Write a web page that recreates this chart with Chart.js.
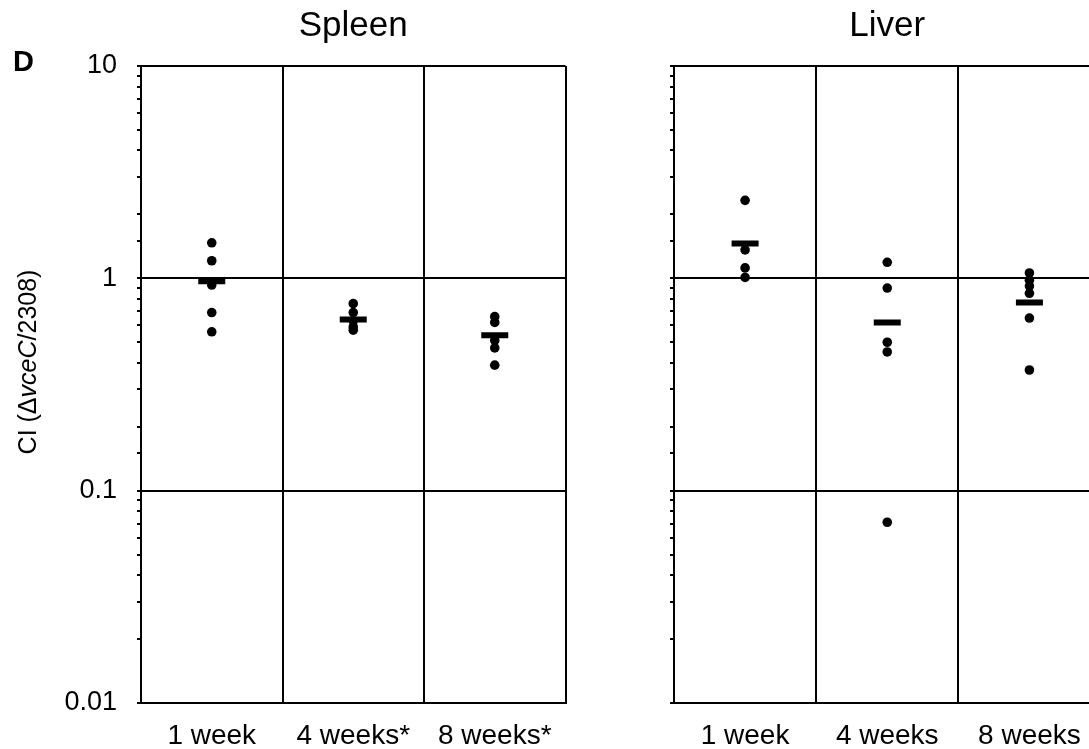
<!DOCTYPE html>
<html>
<head>
<meta charset="utf-8">
<script src="https://cdn.jsdelivr.net/npm/chart.js@4"></script>
<style>
    html, body { margin: 0; padding: 0; background: #fff; overflow: hidden; }
    body { width: 1089px; height: 749px; position: relative; font-family: 'Liberation Sans', Arial, sans-serif; }
    #spleenWrap { position: absolute; left: 0; top: 0; width: 585px; height: 749px; }
    #liverWrap { position: absolute; left: 590px; top: 0; width: 530px; height: 749px; }
    .panel-letter { position: absolute; left: 13px; top: 47px; font-size: 29px; font-weight: bold; line-height: 1; }
    .y-title {
        position: absolute; left: 27px; top: 362px; font-size: 25px; line-height: 1; white-space: nowrap;
        transform: translate(-50%, -50%) rotate(-90deg);
    }
</style>
</head>
<body>
<div id="spleenWrap"><canvas id="spleenChart"></canvas></div>
<div id="liverWrap"><canvas id="liverChart"></canvas></div>
<div class="panel-letter">D</div>
<div class="y-title">CI (&Delta;<i>vceC</i>/2308)</div>
<script>
// --- Data ---
const spleenLabels = ['1 week', '4 weeks*', '8 weeks*'];
const spleenWeek1 = [1.47, 1.21, 0.93, 0.69, 0.56];
const spleenWeek4 = [0.76, 0.69, 0.63, 0.59, 0.57];
const spleenWeek8 = [0.66, 0.62, 0.51, 0.47, 0.39];
const spleenMeans = [0.97, 0.64, 0.54];

const liverLabels = ['1 week', '4 weeks', '8 weeks'];
const liverWeek1 = [2.33, 1.36, 1.12, 1.01];
const liverWeek4 = [1.19, 0.90, 0.50, 0.45, 0.071];
const liverWeek8 = [1.06, 0.98, 0.92, 0.85, 0.65, 0.37];
const liverMeans = [1.46, 0.62, 0.77];

const yTicks = [0.01, 0.1, 1, 10];

Chart.defaults.font.family = "'Liberation Sans', Arial, sans-serif";
Chart.defaults.color = '#000';

const isDecade = (v) => Math.abs(Math.log10(v) - Math.round(Math.log10(v))) < 1e-6;

// turn the per-week arrays into {x, y} points on the category axis
const toPoints = (labels, groups) => {
    const pts = [];
    groups.forEach((vals, i) => vals.forEach(v => pts.push({ x: labels[i], y: v })));
    return pts;
};

const createPanel = (elementId, title, labels, groups, means, showLabels, yWidth, padRight) => {
    const ctx = document.getElementById(elementId).getContext('2d');
    return new Chart(ctx, {
        type: 'line',
        data: {
            labels: labels,
            datasets: [
                {
                    label: 'mean',
                    data: means.map((m, i) => ({ x: labels[i], y: m })),
                    showLine: false,
                    pointStyle: 'line',
                    pointRadius: 13.5,
                    pointBorderWidth: 6,
                    borderColor: '#000',
                    pointBorderColor: '#000',
                    pointHoverRadius: 13.5
                },
                {
                    label: 'CI',
                    data: toPoints(labels, groups),
                    showLine: false,
                    pointStyle: 'circle',
                    pointRadius: 4.8,
                    pointBorderWidth: 0,
                    pointBackgroundColor: '#000',
                    pointHoverRadius: 4.8
                }
            ]
        },
        options: {
            responsive: true,
            maintainAspectRatio: false,
            animation: false,
            layout: { padding: { left: 0, right: padRight, top: 0, bottom: 0 } },
            plugins: {
                legend: { display: false },
                tooltip: { enabled: false },
                title: {
                    display: true,
                    text: title,
                    fullSize: false,
                    font: { size: 35, weight: 'normal' },
                    padding: { top: 5, bottom: 19 }
                }
            },
            scales: {
                x: {
                    type: 'category',
                    offset: true,
                    grid: {
                        offset: true,
                        color: '#000',
                        lineWidth: 2,
                        drawTicks: false
                    },
                    border: { color: '#000', width: 2 },
                    ticks: { font: { size: 28 }, padding: 16, maxRotation: 0 },
                    afterFit: (s) => { s.height = 46; }
                },
                y: {
                    type: 'logarithmic',
                    min: yTicks[0],
                    max: yTicks[yTicks.length - 1],
                    grid: {
                        color: (c) => (c.tick && isDecade(c.tick.value)) ? '#000' : 'rgba(0,0,0,0)',
                        lineWidth: 2,
                        tickColor: '#000',
                        tickLength: 4,
                        tickWidth: 2
                    },
                    border: { color: '#000', width: 2 },
                    ticks: {
                        autoSkip: false,
                        font: { size: 27 },
                        padding: 20,
                        callback: (v) => {
                            if (!showLabels || !isDecade(v)) return '';
                            const t = yTicks.find(k => Math.abs(Math.log10(k) - Math.log10(v)) < 1e-6);
                            return t !== undefined ? String(t) : '';
                        }
                    },
                    afterFit: (s) => { s.width = yWidth; }
                }
            }
        }
    });
};

createPanel('spleenChart', 'Spleen', spleenLabels, [spleenWeek1, spleenWeek4, spleenWeek8], spleenMeans, true, 141, 0);
createPanel('liverChart', 'Liver', liverLabels, [liverWeek1, liverWeek4, liverWeek8], liverMeans, false, 84, 0);
</script>
</body>
</html>
